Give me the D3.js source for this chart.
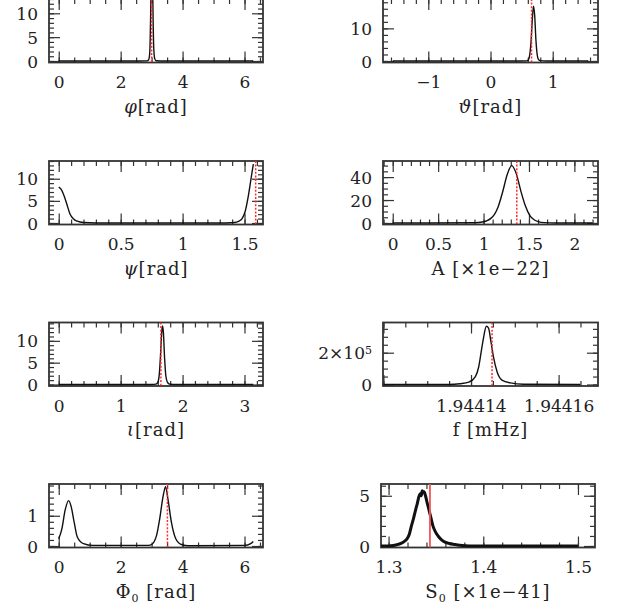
<!DOCTYPE html>
<html>
<head>
<meta charset="utf-8">
<script src="https://cdn.jsdelivr.net/npm/d3@7"></script>
<style>
body { margin: 0; background: #fff; }
text { font-family: "DejaVu Serif", serif; fill: #222; }
</style>
</head>
<body>
<svg id="chart" width="622" height="614"></svg>
<script>
// ---- data ----
// phi
var phiX = [0, 2.6, 2.85, 2.9, 2.93, 2.95, 2.97, 2.99, 3.01, 3.03, 3.05, 3.07, 3.1, 3.15, 3.4, 6.283];
var phiY = [0, 0, 0.02, 0.2, 1.0, 3.5, 10, 19, 22, 17, 8, 2.5, 0.5, 0.05, 0, 0];
var phiTrue = 3.0;
var phiTicks = [0, 2, 4, 6];
var phiYTicks = [0, 5, 10];

// theta
var thetaX = [-1.571, 0.5, 0.58, 0.61, 0.63, 0.65, 0.67, 0.69, 0.71, 0.73, 0.75, 0.77, 0.8, 0.9, 1.571];
var thetaY = [0, 0, 0.05, 0.4, 1.8, 5.5, 12, 16.8, 14, 6.5, 2, 0.5, 0.1, 0, 0];
var thetaTrue = 0.66;
var thetaTicks = [-1, 0, 1];
var thetaYTicks = [0, 10];

// psi
var psiX = [0, 0.02, 0.04, 0.065, 0.09, 0.12, 0.15, 0.2, 0.3, 1.35, 1.42, 1.45, 1.48, 1.505, 1.53, 1.555, 1.571];
var psiY = [8.1, 7.6, 6.4, 4.3, 2.1, 0.9, 0.4, 0.1, 0, 0, 0.1, 0.35, 1.0, 2.6, 6.0, 10.5, 13.3];
var psiTrue = 1.59;
var psiTicks = [0, 0.5, 1, 1.5];
var psiYTicks = [0, 5, 10];

// amplitude A
var aX = [0, 0.9, 1.0, 1.04, 1.08, 1.12, 1.16, 1.21, 1.26, 1.31, 1.36, 1.41, 1.46, 1.51, 1.56, 1.6, 1.67, 1.8, 2.2];
var aY = [0, 0.2, 1.1, 2.1, 4.0, 7.5, 14, 27, 42, 50, 43, 28, 15, 6.5, 2.6, 1.2, 0.3, 0.05, 0];
var aTrue = 1.366;
var aTicks = [0, 0.5, 1, 1.5, 2];
var aYTicks = [0, 20, 40];

// iota
var iotaX = [0, 1.5, 1.57, 1.6, 1.625, 1.645, 1.665, 1.678, 1.69, 1.71, 1.73, 1.76, 1.8, 1.9, 3.1416];
var iotaY = [0, 0, 0.1, 0.5, 2.5, 7, 12.3, 13.4, 12, 6, 2, 0.4, 0.05, 0, 0];
var iotaTrue = 1.65;
var iotaTicks = [0, 1, 2, 3];
var iotaYTicks = [0, 5, 10];

// frequency f [mHz]
var fX = [1.94412, 1.944135, 1.9441375, 1.9441395, 1.944141, 1.94414175, 1.94414235, 1.9441429,
          1.9441435, 1.944144, 1.94414455, 1.94414515, 1.94414595, 1.94414705, 1.944149, 1.944152, 1.944165];
var fY = [0, 0, 5000, 15000, 50000, 110000, 210000, 300000, 366000, 355000, 270000, 170000, 80000, 28000, 10000, 2000, 0];
var fTrue = 1.9441448;
var fTicks = [1.94412, 1.94414, 1.94416];
var fTickLabels = [1.94414, 1.94416];
var fYTicks = [0, 200000];

// initial phase Phi0
var phi0X = [0, 0.1, 0.21, 0.32, 0.4, 0.5, 0.6, 0.8, 1.1, 2.9, 3.0, 3.16, 3.26, 3.37, 3.45, 3.53, 3.64, 3.78, 3.96, 4.2, 6.0, 6.2, 6.283];
var phi0Y = [0.24, 0.56, 1.2, 1.5, 1.31, 0.78, 0.3, 0.08, 0.02, 0.02, 0.05, 0.35, 0.89, 1.64, 1.96, 1.53, 0.78, 0.24, 0.05, 0.01, 0.02, 0.08, 0.15];
var phi0True = 3.51;
var phi0Ticks = [0, 2, 4, 6];
var phi0YTicks = [0, 1];

// noise level S0 (jagged histogram)
var s0X = [1.292, 1.3, 1.305, 1.31, 1.315, 1.319, 1.322, 1.324, 1.3265, 1.3285, 1.3305, 1.332, 1.3335, 1.3345,
           1.3355, 1.3365, 1.3375, 1.339, 1.3405, 1.3427, 1.345, 1.347, 1.3495, 1.3525, 1.356, 1.3596, 1.364,
           1.37, 1.375, 1.381, 1.39, 1.5];
var s0Y = [0, 0, 0.05, 0.16, 0.35, 0.65, 1.2, 1.95, 2.8, 3.58, 4.3, 4.9, 5.2, 5.0,
           5.5, 5.3, 5.4, 5.0, 4.4, 3.58, 2.7, 1.95, 1.4, 0.97, 0.6, 0.39, 0.25,
           0.15, 0.08, 0.03, 0.01, 0];
var s0True = 1.3437;
var s0Ticks = [1.3, 1.4, 1.5];
var s0YTicks = [0, 5];

// ---- layout ----
var svg = d3.select("#chart");
var PH = 63.5;
var rowTop = [-1, 161, 322.5, 484];

var panels = [
  {left: 49, width: 214, top: rowTop[0], xDomain: [-0.314, 6.597], xStep: 0.5, yMax: 13, yStep: 1,
   xs: phiX, ys: phiY, truth: phiTrue, xMajor: phiTicks, xLabels: phiTicks, yLabels: phiYTicks,
   title: [{t: "φ", i: 1}, {t: "[rad]"}]},
  {left: 383, width: 215, top: rowTop[0], xDomain: [-1.728, 1.728], xStep: 0.2, yMax: 19, yStep: 2,
   xs: thetaX, ys: thetaY, truth: thetaTrue, xMajor: thetaTicks, xLabels: thetaTicks, yLabels: thetaYTicks,
   title: [{t: "ϑ", i: 1}, {t: "[rad]"}]},
  {left: 49, width: 214, top: rowTop[1], xDomain: [-0.0785, 1.649], xStep: 0.1, yMax: 14, yStep: 1,
   xs: psiX, ys: psiY, truth: psiTrue, xMajor: psiTicks, xLabels: psiTicks, yLabels: psiYTicks,
   title: [{t: "ψ", i: 1}, {t: "[rad]"}]},
  {left: 383, width: 215, top: rowTop[1], xDomain: [-0.107, 2.26], xStep: 0.1, yMax: 54, yStep: 5,
   xs: aX, ys: aY, truth: aTrue, xMajor: aTicks, xLabels: aTicks, yLabels: aYTicks,
   title: [{t: "A [×1e−22]"}]},
  {left: 49, width: 214, top: rowTop[2], xDomain: [-0.157, 3.299], xStep: 0.2, yMax: 14.2, yStep: 1,
   xs: iotaX, ys: iotaY, truth: iotaTrue, xMajor: iotaTicks, xLabels: iotaTicks, yLabels: iotaYTicks,
   title: [{t: "ι", i: 1}, {t: "[rad]"}]},
  {left: 383, width: 215, top: rowTop[2], xDomain: [1.9441199, 1.944169], xStep: 0.000005, yMax: 390000, yStep: 50000,
   xs: fX, ys: fY, truth: fTrue, xMajor: fTicks, xLabels: fTickLabels, yLabels: fYTicks, sci: true,
   title: [{t: "f [mHz]"}]},
  {left: 49, width: 214, top: rowTop[3], xDomain: [-0.314, 6.597], xStep: 0.5, yMax: 2.05, yStep: 0.2,
   xs: phi0X, ys: phi0Y, truth: phi0True, xMajor: phi0Ticks, xLabels: phi0Ticks, yLabels: phi0YTicks,
   title: [{t: "Φ"}, {t: "0", sub: 1}, {t: " [rad]"}]},
  {left: 381, width: 214, top: rowTop[3], xDomain: [1.292, 1.518], xStep: 0.02, yMax: 6.17, yStep: 1,
   xs: s0X, ys: s0Y, truth: s0True, xMajor: s0Ticks, xLabels: s0Ticks, yLabels: s0YTicks, solidTruth: true, thick: true,
   title: [{t: "S"}, {t: "0", sub: 1}, {t: " [×1e−41]"}]}
];

function minorTicks(dom, step) {
  var out = [];
  var k0 = Math.ceil(dom[0] / step - 1e-6), k1 = Math.floor(dom[1] / step + 1e-6);
  for (var k = k0; k <= k1; k++) out.push(k * step);
  return out;
}

function styleTicks(sel) {
  sel.select(".domain").remove();
  sel.selectAll(".tick line").attr("stroke", "#333").attr("stroke-width", 1.2);
}

panels.forEach(function(p, n) {
  var w = p.width, h = PH;
  var g = svg.append("g").attr("transform", "translate(" + p.left + "," + p.top + ")");
  var x = d3.scaleLinear().domain(p.xDomain).range([0, w]);
  var y = d3.scaleLinear().domain([0, p.yMax]).range([h - 1.5, 0]);
  var xMinor = minorTicks(p.xDomain, p.xStep);
  var yMinor = minorTicks([0, p.yMax], p.yStep);

  // inward ticks on all four sides
  [[xMinor, 5], [p.xMajor, 11]].forEach(function(t) {
    g.append("g").attr("transform", "translate(0," + h + ")")
      .call(d3.axisBottom(x).tickValues(t[0]).tickSize(-t[1]).tickFormat(""))
      .call(styleTicks);
    g.append("g")
      .call(d3.axisTop(x).tickValues(t[0]).tickSize(-t[1]).tickFormat(""))
      .call(styleTicks);
  });
  [[yMinor, 5], [p.yLabels, 11]].forEach(function(t) {
    g.append("g")
      .call(d3.axisLeft(y).tickValues(t[0]).tickSize(-t[1]).tickFormat(""))
      .call(styleTicks);
    g.append("g").attr("transform", "translate(" + w + ",0)")
      .call(d3.axisRight(y).tickValues(t[0]).tickSize(-t[1]).tickFormat(""))
      .call(styleTicks);
  });

  // tick labels
  var xl = g.append("g").attr("transform", "translate(0," + h + ")")
    .call(d3.axisBottom(x).tickValues(p.xLabels).tickSize(0).tickFormat(d3.format("~g")));
  xl.select(".domain").remove();
  xl.selectAll("text").attr("y", 25.5).attr("dy", 0).attr("font-size", "17px").attr("fill", "#222");

  var yl = g.append("g")
    .call(d3.axisLeft(y).tickValues(p.yLabels).tickSize(0).tickPadding(11).tickFormat(d3.format("~g")));
  yl.select(".domain").remove();
  yl.selectAll("text").attr("font-size", "17px").attr("fill", "#222").attr("dy", "0.36em");
  if (p.sci) {
    yl.selectAll("text").each(function(d) {
      if (d === 0) return;
      var t = d3.select(this);
      var e = Math.floor(Math.log10(d));
      t.text(d / Math.pow(10, e) + "×10");
      t.append("tspan").attr("dy", "-0.5em").attr("font-size", "11px").text(e);
    });
  }

  // frame
  g.append("rect").attr("width", w).attr("height", h)
    .attr("fill", "none").attr("stroke", "#333").attr("stroke-width", 1.8);

  // curve, then the true value on top
  var cid = "clip" + n;
  g.append("clipPath").attr("id", cid).append("rect").attr("width", w).attr("height", h);
  var pts = p.xs.map(function(v, i) { return [v, p.ys[i]]; });
  var line = d3.line().x(function(d) { return x(d[0]); }).y(function(d) { return y(d[1]); }).curve(d3.curveMonotoneX);

  g.append("path").datum(pts)
    .attr("clip-path", "url(#" + cid + ")")
    .attr("d", line)
    .attr("fill", "none").attr("stroke", "#111")
    .attr("stroke-width", p.thick ? 3 : 1.4)
    .attr("stroke-linejoin", "round");

  g.append("line")
    .attr("clip-path", "url(#" + cid + ")")
    .attr("x1", x(p.truth)).attr("x2", x(p.truth)).attr("y1", 0).attr("y2", h)
    .attr("stroke", p.solidTruth ? "#f25555" : "#ff2a2a")
    .attr("stroke-width", p.solidTruth ? 1.8 : 1.5)
    .attr("stroke-dasharray", p.solidTruth ? null : "2,1.6");

  // axis title
  var tt = g.append("text").attr("x", w / 2).attr("y", h + 50)
    .attr("text-anchor", "middle").attr("font-size", "18px").attr("letter-spacing", "1px");
  p.title.forEach(function(s) {
    var sp = tt.append("tspan").text(s.t);
    if (s.i) sp.attr("font-style", "italic");
    if (s.sub) sp.attr("font-size", "11px").attr("dy", "4");
    else if (s.t.charAt(0) === " " && tt.selectAll("tspan").size() > 1) sp.attr("dy", "-4");
  });
});
</script>
</body>
</html>
